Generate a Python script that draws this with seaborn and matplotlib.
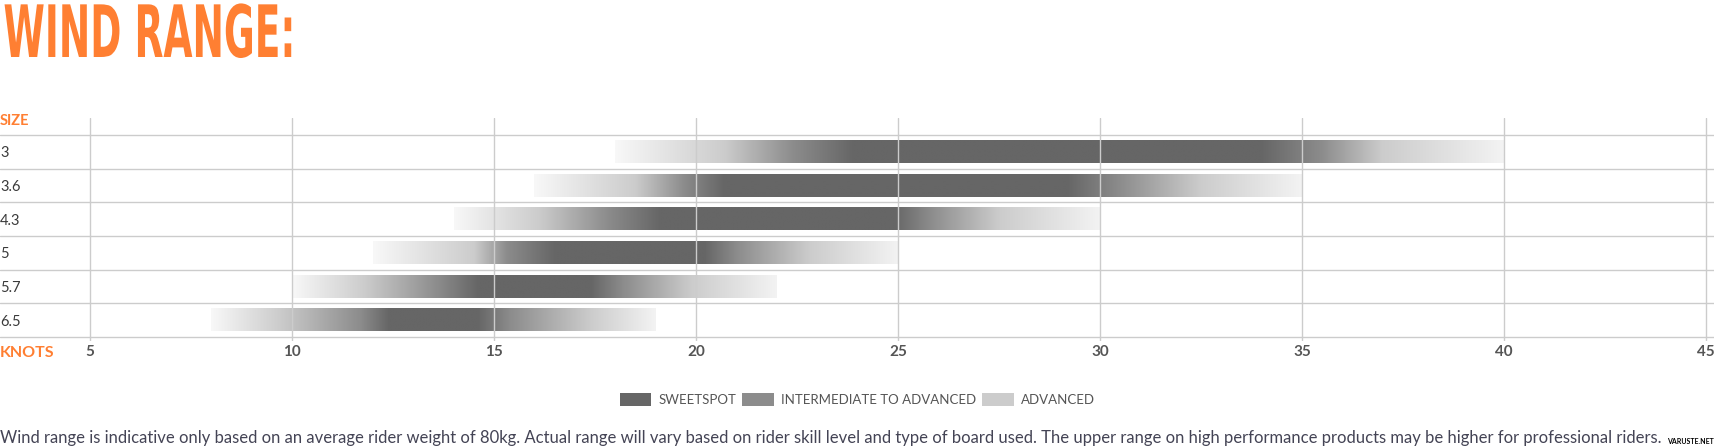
import numpy as np
import pandas as pd
import matplotlib.pyplot as plt
import seaborn as sns
from matplotlib.patches import Patch
from matplotlib import patheffects
from matplotlib.transforms import Affine2D

# wind range per sail size (knots)
sizes = ['3', '3.6', '4.3', '5', '5.7', '6.5']
wind_min = [18, 16, 14, 12, 10, 8]
wind_max = [40, 35, 30, 25, 22, 19]
# where the gradient reaches each shade
adv_lo = [20.7, 18.5, 16.1, 14.5, 11.8, 9.7]
int_lo = [22.4, 19.7, 17.8, 15.3, 13.6, 11.7]
sweet_lo = [23.9, 20.7, 19.1, 16.5, 14.6, 12.4]
sweet_hi = [34.0, 29.2, 24.9, 20.2, 17.4, 14.6]
int_hi = [35.5, 30.5, 25.8, 21.0, 18.2, 15.4]
adv_hi = [37.0, 32.5, 27.5, 22.8, 19.9, 17.4]
knots = [5, 10, 15, 20, 25, 30, 35, 40, 45]
legend_labels = ['SWEETSPOT', 'INTERMEDIATE TO ADVANCED', 'ADVANCED']

ORANGE = '#ff7f32'
SWEET, INTER, ADV = '#666666', '#8c8c8c', '#cccccc'
# gray levels along a bar: edge, adv, int, sweet, sweet, int, adv, edge
SHADES = np.array([0xf8, 0xcc, 0x8c, 0x66, 0x66, 0x8c, 0xcc, 0xf3]) / 255.0


class Squeeze(patheffects.AbstractPathEffect):
    """squeeze text horizontally around its left edge (poor man's condensed font)"""
    def __init__(self, sx):
        super().__init__()
        self.sx = sx

    def draw_path(self, renderer, gc, tpath, affine, rgbFace=None):
        x0 = affine.transform((0, 0))[0]
        squeeze = Affine2D().translate(-x0, 0).scale(self.sx, 1).translate(x0, 0)
        renderer.draw_path(gc, tpath, affine + squeeze, rgbFace)


sns.set_theme(style='white')
plt.rcParams['font.family'] = ['Lato', 'DejaVu Sans']

W, H = 1715, 446
fig = plt.figure(figsize=(W / 100, H / 100), dpi=100)
ax = fig.add_axes([0, 1 - 341 / H, 1, 223 / H])

df = pd.DataFrame({'size': sizes,
                   'span': np.subtract(wind_max, wind_min),
                   'start': wind_min})
sns.barplot(data=df, x='span', y='size', orient='h', left=df['start'],
            color='white', width=0.67, ax=ax)

for i, bar in enumerate(ax.patches):
    x0, y0 = bar.get_x(), bar.get_y()
    w, h = bar.get_width(), bar.get_height()
    stops = [wind_min[i], adv_lo[i], int_lo[i], sweet_lo[i],
             sweet_hi[i], int_hi[i], adv_hi[i], wind_max[i]]
    xs = np.linspace(x0, x0 + w, 800)
    g = np.interp(xs, stops, SHADES)
    img = np.repeat(g[None, :, None], 3, axis=2)
    ax.imshow(img, extent=(x0, x0 + w, y0 + h, y0), aspect='auto',
              interpolation='bilinear', zorder=1)
    bar.set_facecolor('none')
    bar.set_edgecolor('none')

# row separators
for b in np.arange(-0.5, len(sizes) + 0.5, 1):
    ax.axhline(b, color='#cccccc', lw=1, zorder=3)

ax.set_xlim(5 - 90 / 40.4, 45 + 9 / 40.4)
ax.set_ylim(5.5 + 4 / 33.67, -0.5 - 17 / 33.67)
ax.set_xticks(knots)
ax.set_xticklabels([str(k) for k in knots], fontweight='bold',
                   color='#555555', fontsize=11)
ax.set_yticks(range(len(sizes)))
ax.set_yticklabels(sizes, ha='left', color='#3a3a3a', fontsize=10.5)
ax.tick_params(axis='x', length=0, pad=3)
ax.tick_params(axis='y', length=0, pad=0)
ax.grid(axis='x', color='#cccccc', lw=1, zorder=3)
ax.grid(axis='y', visible=False)
ax.set_axisbelow(False)
ax.set_xlabel('')
ax.set_ylabel('')
sns.despine(ax=ax, left=True, bottom=True)

fig.text(0.002, 1 - 57 / H, 'WIND RANGE:', color=ORANGE, fontsize=52,
         fontweight='bold', family='DejaVu Sans', va='baseline',
         path_effects=[Squeeze(0.52)])
fig.text(0, 1 - 125 / H, 'SIZE', color=ORANGE, fontsize=10.5,
         fontweight='bold', va='baseline')
fig.text(0, 1 - 357 / H, 'KNOTS', color=ORANGE, fontsize=11.5,
         fontweight='bold', va='baseline')

handles = [Patch(facecolor=c, edgecolor='none') for c in (SWEET, INTER, ADV)]
fig.legend(handles, legend_labels, loc='center',
           bbox_to_anchor=(0.5, 1 - 399.5 / H), ncol=3, frameon=False,
           fontsize=9.5, labelcolor='#555555', handlelength=2.4,
           handleheight=1.2, handletextpad=0.55, columnspacing=0.45,
           borderpad=0)

fig.text(0, 1 - 442.7 / H,
         'Wind range is indicative only based on an average rider weight of 80kg. '
         'Actual range will vary based on rider skill level and type of board used. '
         'The upper range on high performance products may be higher for professional riders.',
         color='#444455', fontsize=12, va='baseline')
fig.text(0.9995, 0.002, 'VARUSTE.NET', color='black', fontsize=5,
         fontweight='bold', ha='right', va='bottom')

fig.savefig('out.png', dpi=100)
